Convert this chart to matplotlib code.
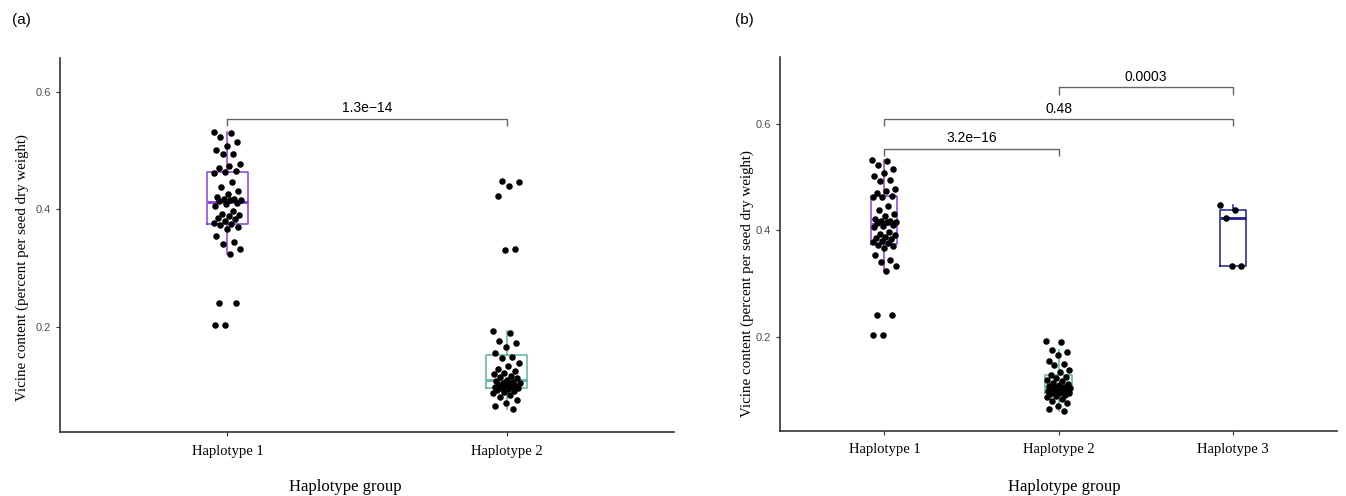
import numpy as np
import matplotlib
matplotlib.use("Agg")
import matplotlib.pyplot as plt

# ---------------- data ----------------
categories_a = ["Haplotype 1", "Haplotype 2"]
categories_b = ["Haplotype 1", "Haplotype 2", "Haplotype 3"]

hap1 = [0.531, 0.530, 0.522, 0.515, 0.508, 0.501, 0.494, 0.493, 0.477, 0.474,
        0.470, 0.464, 0.463, 0.462, 0.446, 0.437, 0.430, 0.426, 0.420, 0.418,
        0.417, 0.416, 0.415, 0.414, 0.410, 0.408, 0.405, 0.396, 0.392, 0.390,
        0.388, 0.385, 0.383, 0.379, 0.377, 0.375, 0.373, 0.370, 0.367, 0.354,
        0.344, 0.341, 0.333, 0.324, 0.240, 0.240, 0.203, 0.203]

hap2 = [0.192, 0.190, 0.175, 0.172, 0.165, 0.155, 0.149, 0.147, 0.138, 0.134,
        0.128, 0.124, 0.122, 0.119, 0.116, 0.114, 0.112, 0.110, 0.108, 0.106,
        0.105, 0.104, 0.103, 0.101, 0.100, 0.099, 0.098, 0.097, 0.096, 0.095,
        0.094, 0.093, 0.091, 0.089, 0.087, 0.084, 0.080, 0.076, 0.070, 0.065,
        0.060]

# high-vicine lines (pooled into Haplotype 2 in panel a, separate Haplotype 3 in panel b)
hap3_a = [0.447, 0.446, 0.439, 0.423, 0.332, 0.331]
hap3 = [0.447, 0.438, 0.423, 0.333, 0.332]

# comparisons: (group i, group j, bracket height, label)
comparisons_a = [(1, 2, 0.554, "1.3e\u221214")]
comparisons_b = [(1, 2, 0.553, "3.2e\u221216"),
                 (1, 3, 0.609, "0.48"),
                 (2, 3, 0.668, "0.0003")]

yticks = [0.2, 0.4, 0.6]
colors = ["#8a3fdc", "#5fb0a5", "#1c1c9a"]

# ---------------- figure ----------------
W, H = 1346, 496
fig = plt.figure(figsize=(W / 100, H / 100), dpi=100)

def axes_px(x0, y0, x1, y1):
    return fig.add_axes([x0 / W, 1 - y1 / H, (x1 - x0) / W, (y1 - y0) / H])

ax_a = axes_px(60, 58, 674, 432)
ax_b = axes_px(780, 57, 1337, 431)

serif = ["Liberation Serif", "DejaVu Serif"]
sans = ["Liberation Sans", "DejaVu Sans"]


def jitter(n, width):
    return np.array([((i * 0.6180339887) % 1.0 - 0.5) * 2 * width for i in range(n)])


def draw_panel(ax, groups, cats, comps, ylim, jw, leg, xlabel_x, ylab_xy):
    pos = np.arange(1, len(groups) + 1)
    for k, (g, c) in enumerate(zip(groups, colors)):
        ax.boxplot([g], positions=[pos[k]], widths=0.15, showfliers=False,
                   whis=1.5, showcaps=False, patch_artist=False,
                   boxprops=dict(color=c, linewidth=1.1),
                   whiskerprops=dict(color=c, linewidth=1.1),
                   medianprops=dict(color=c, linewidth=2.0),
                   manage_ticks=False)
        g = np.asarray(g)
        ax.scatter(pos[k] + jitter(len(g), jw), g, s=22, color="black",
                   zorder=5, linewidths=0)
    for (i, j, h, lab) in comps:
        ax.plot([i, i, j, j], [h - leg, h, h, h - leg], color="#666666",
                lw=1.0, solid_capstyle="butt")
        ax.text((i + j) / 2, h + 0.006, lab, ha="center", va="bottom",
                fontsize=10, family=sans, color="black")
    ax.set_xlim(0.4, len(groups) + 0.6)
    ax.set_ylim(*ylim)
    ax.set_xticks(pos)
    ax.set_xticklabels(cats, family=serif, fontsize=10.5, color="black")
    ax.set_yticks(yticks)
    ax.set_yticklabels([f"{t:.1f}" for t in yticks], family=sans, fontsize=8,
                       color="#4d4d4d")
    ax.tick_params(axis="both", length=3, width=0.8, color="#333333")
    ax.tick_params(axis="x", pad=6)
    for s in ["top", "right"]:
        ax.spines[s].set_visible(False)
    for s in ["left", "bottom"]:
        ax.spines[s].set_color("#333333")
        ax.spines[s].set_linewidth(1.2)
    fig.text(xlabel_x / W, 1 - 487 / H, "Haplotype group", family=serif,
             fontsize=12, ha="center", va="center")
    ax.set_ylabel("Vicine content (percent per seed dry weight)", family=serif,
                  fontsize=10.8)
    ax.yaxis.set_label_coords(*ylab_xy)
    ax.yaxis.label.set_verticalalignment("center")


draw_panel(ax_a, [hap1, hap2 + hap3_a], categories_a, comparisons_a,
           (0.021, 0.657), 0.05, 0.013, 345, (-0.062, 0.44))
draw_panel(ax_b, [hap1, hap2, hap3], categories_b, comparisons_b,
           (0.023, 0.725), 0.07, 0.014, 1064, (-0.059, 0.395))

fig.text(12 / W, 1 - 20 / H, "(a)", family=sans, fontsize=11, va="center")
fig.text(735 / W, 1 - 20 / H, "(b)", family=sans, fontsize=11, va="center")

fig.savefig("out.png", dpi=100, facecolor="white")
